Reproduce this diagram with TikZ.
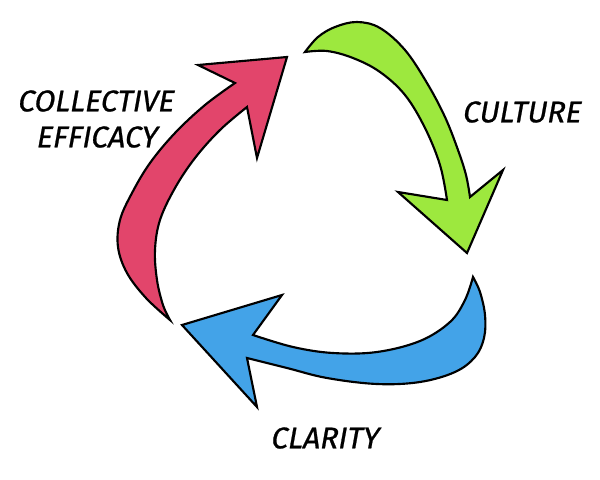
\documentclass[tikz,border=0pt]{standalone}
\usepackage{fontspec}
\setmainfont{Fira Sans}
\newfontfamily\handfont[FakeBold=0.8, FakeSlant=0.18]{Fira Sans}
\definecolor{redarrow}{HTML}{E2456B}
\definecolor{greenarrow}{HTML}{9DE83E}
\definecolor{bluearrow}{HTML}{43A3E8}
\tikzset{
  bigarrow/.style={draw=black, line width=1.6pt, line join=miter},
  lbl/.style={font=\handfont\fontsize{22.5}{24}\selectfont, inner sep=0pt}
}
\begin{document}
\begin{tikzpicture}[x=0.75pt,y=-0.75pt]
\useasboundingbox (0,0) rectangle (600,479);
% red arrow (collective efficacy)
\filldraw[bigarrow, fill=redarrow]
  plot[smooth, tension=0.6] coordinates {(170,320) (146,298) (127,273) (118,247) (120,220) (132,193) (150,163) (175,133) (205,105) (235,83)}
  -- (198,65) -- (287,57) -- (257,158) -- (247,107)
  -- plot[smooth, tension=0.6] coordinates {(247,107) (220,130) (195,158) (175,188) (160,220) (155,250) (157,280) (163,305) (170,320)}
  -- cycle;
% green arrow (culture)
\filldraw[bigarrow, fill=greenarrow]
  plot[smooth, tension=0.6] coordinates {(305,52) (318,37) (335,27) (357,22) (380,28) (405,50) (427,83) (445,117) (458,150) (466,175) (470,197)}
  -- (503,170) -- (467,253) -- (398,192) -- (447,200)
  -- plot[smooth, tension=0.6] coordinates {(447,200) (440,165) (425,128) (405,95) (380,72) (353,58) (327,51) (305,52)}
  -- cycle;
% blue arrow (clarity)
\filldraw[bigarrow, fill=bluearrow]
  plot[smooth, tension=0.6] coordinates {(473,277) (480,292) (485,315) (484,338) (475,357) (455,372) (420,382) (377,384) (327,378) (287,368) (247,358)}
  -- (257,407) -- (182,325) -- (282,295) -- (253,335)
  -- plot[smooth, tension=0.6] coordinates {(253,335) (293,347) (333,353) (377,352) (420,341) (450,322) (465,300) (473,277)}
  -- cycle;
% labels
\node[lbl] (ce1) at (95,101) {COLLECTIVE};
\node[lbl] (ce2) at (96,137) {EFFICACY};
\node[lbl] (cu) at (521,112) {CULTURE};
\node[lbl] (cl) at (324,438) {CLARITY};
\end{tikzpicture}
\end{document}
